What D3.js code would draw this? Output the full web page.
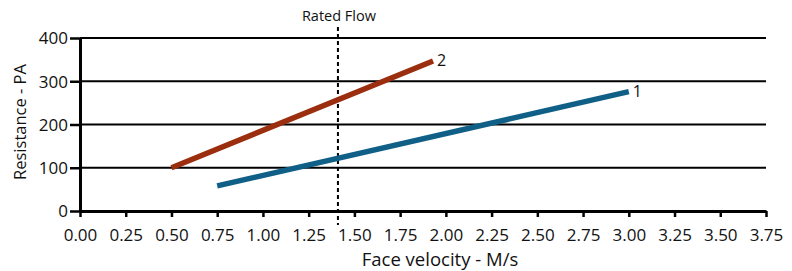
<!DOCTYPE html>
<html>
<head>
<meta charset="utf-8">
<script src="https://cdn.jsdelivr.net/npm/d3@7"></script>
<style>
  body { margin: 0; background: #fff; }
  text { font-family: "Open Sans", "Noto Sans", sans-serif; fill: #111; }
</style>
</head>
<body>
<div id="chart"></div>
<script>
// Set up chart
var svgWidth = 792;
var svgHeight = 271;

var chartMargin = { top: 38, right: 26, bottom: 60, left: 80 };
var chartWidth = svgWidth - chartMargin.left - chartMargin.right;
var chartHeight = svgHeight - chartMargin.top - chartMargin.bottom;

// Data
var xTicks = [0, 0.25, 0.5, 0.75, 1, 1.25, 1.5, 1.75, 2, 2.25, 2.5, 2.75, 3, 3.25, 3.5, 3.75];
var yTicks = [0, 100, 200, 300, 400];
var series1X = [0.75, 3.0];
var series1Y = [58, 276];
var series2X = [0.5, 1.93];
var series2Y = [100, 347];
var ratedFlow = 1.41;

var svg = d3.select("#chart")
  .append("svg")
  .attr("width", svgWidth)
  .attr("height", svgHeight);

var chartGroup = svg.append("g")
  .attr("transform", `translate(${chartMargin.left}, ${chartMargin.top})`);

var xScale = d3.scaleLinear().domain([0, 3.75]).range([0, chartWidth]);
var yScale = d3.scaleLinear().domain([0, 400]).range([chartHeight, 0]);

// Gridlines
chartGroup.selectAll(".grid")
  .data(yTicks.filter(d => d > 0))
  .enter()
  .append("line")
  .attr("x1", 0)
  .attr("x2", chartWidth)
  .attr("y1", d => yScale(d))
  .attr("y2", d => yScale(d))
  .attr("stroke", "#000")
  .attr("stroke-width", 2);

// Axes
var bottomAxis = d3.axisBottom(xScale).tickValues(xTicks).tickFormat(d3.format(".2f")).tickSize(6).tickSizeOuter(0);
var leftAxis = d3.axisLeft(yScale).tickValues(yTicks).tickFormat(d3.format("d")).tickSize(10).tickSizeOuter(0);

var xAxis = chartGroup.append("g")
  .attr("transform", `translate(0, ${chartHeight})`)
  .call(bottomAxis);
var yAxis = chartGroup.append("g")
  .call(leftAxis);

[xAxis, yAxis].forEach(function(ax) {
  ax.select(".domain").attr("stroke", "#000").attr("stroke-width", 3);
  ax.selectAll(".tick line").attr("stroke", "#000").attr("stroke-width", 2.5);
  ax.selectAll(".tick text")
    .attr("fill", "#111")
    .style("font-family", "'Open Sans', 'Noto Sans', sans-serif")
    .style("font-size", "17px");
});
// baseline of x tick labels ~29px under the axis
xAxis.selectAll(".tick text").attr("y", 29.5).attr("dy", 0);
yAxis.selectAll(".tick text").attr("x", -12).attr("dy", "0.34em");

// Rated flow line
chartGroup.append("line")
  .attr("x1", xScale(ratedFlow))
  .attr("x2", xScale(ratedFlow))
  .attr("y1", -11)
  .attr("y2", chartHeight + 14)
  .attr("stroke", "#000")
  .attr("stroke-width", 2)
  .attr("stroke-dasharray", "4,3");

chartGroup.append("text")
  .attr("x", xScale(ratedFlow) + 1)
  .attr("y", -17)
  .attr("text-anchor", "middle")
  .style("font-size", "14.5px")
  .text("Rated Flow");

// Series lines
var line = d3.line().x(d => xScale(d[0])).y(d => yScale(d[1]));

var allSeries = [
  { name: "1", pts: d3.zip(series1X, series1Y), color: "#0f5f87" },
  { name: "2", pts: d3.zip(series2X, series2Y), color: "#9a2e0e" }
];

allSeries.forEach(function(s) {
  chartGroup.append("path")
    .datum(s.pts)
    .attr("d", line)
    .attr("fill", "none")
    .attr("stroke", s.color)
    .attr("stroke-width", 5.5);

  var last = s.pts[s.pts.length - 1];
  chartGroup.append("text")
    .attr("x", xScale(last[0]) + 4)
    .attr("y", yScale(last[1]) + 5)
    .style("font-size", "16px")
    .text(s.name);
});

// Axis titles
chartGroup.append("text")
  .attr("x", 440 - chartMargin.left)
  .attr("y", chartHeight + 55)
  .attr("text-anchor", "middle")
  .style("font-size", "18.5px")
  .text("Face velocity - M/s");

chartGroup.append("text")
  .attr("transform", "rotate(-90)")
  .attr("x", -(122 - chartMargin.top))
  .attr("y", -54)
  .attr("text-anchor", "middle")
  .style("font-size", "16.5px")
  .text("Resistance - PA");
</script>
</body>
</html>
